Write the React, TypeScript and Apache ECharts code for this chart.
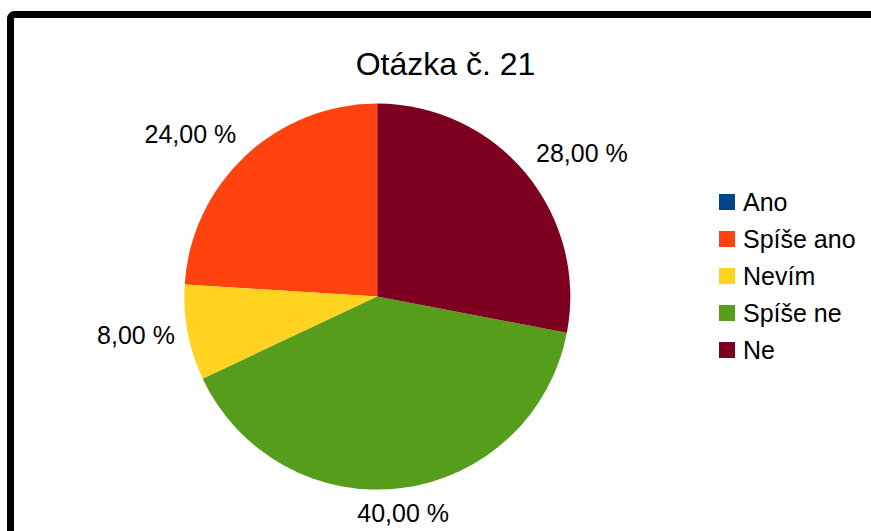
import React, { useEffect, useRef } from 'react';
import * as echarts from 'echarts';

const TITLE = 'Otázka č. 21';
const categories = ['Ano', 'Spíše ano', 'Nevím', 'Spíše ne', 'Ne'];
const values = [0, 24, 8, 40, 28];
const colors = ['#004586', '#ff420e', '#ffd320', '#579d1c', '#7e0021'];

const CX = 377.3;
const CY = 296.6;
const R = 193;
const GAP = 13;
const FONT = "'Liberation Sans', Arial, sans-serif";

function fallbackDir(idx: number) {
  const total = values.reduce((a, b) => a + b, 0) || 1;
  let cum = 0;
  for (let i = 0; i < idx; i++) cum += values[i];
  const deg = 90 + ((cum + values[idx] / 2) / total) * 360;
  const rad = (deg * Math.PI) / 180;
  return [Math.cos(rad), -Math.sin(rad)];
}

export default function App() {
  const ref = useRef<HTMLDivElement>(null);
  useEffect(() => {
    if (!ref.current) return;
    const chart = echarts.init(ref.current, null, { renderer: 'svg' });
    const data = categories.map((name, i) => ({
      name,
      value: values[i],
      itemStyle: { color: colors[i] },
      ...(values[i] === 0 ? { label: { show: false }, labelLine: { show: false } } : {}),
    }));
    const option: any = {
      animation: false,
      backgroundColor: '#ffffff',
      graphic: [
        {
          type: 'rect',
          silent: true,
          z: 100,
          shape: { x: 10.5, y: 14.5, width: 1000, height: 1000, r: 4 },
          style: { fill: 'none', stroke: '#000000', lineWidth: 7 },
        },
        {
          type: 'text',
          silent: true,
          x: 445.5,
          y: 63.5,
          style: {
            text: TITLE,
            fontSize: 32,
            fontFamily: FONT,
            fill: '#000000',
            align: 'center',
            verticalAlign: 'middle',
          },
        },
      ],
      legend: {
        orient: 'vertical',
        left: 719,
        top: 189.5,
        padding: 0,
        icon: 'rect',
        itemWidth: 16,
        itemHeight: 16,
        itemGap: 12,
        selectedMode: false,
        data: categories,
        textStyle: {
          fontSize: 25,
          lineHeight: 25,
          fontFamily: FONT,
          color: '#000000',
          padding: [0, 0, 0, 3],
        },
      },
      series: [
        {
          type: 'pie',
          center: [CX, CY],
          radius: R,
          startAngle: 90,
          clockwise: false,
          silent: true,
          data,
          itemStyle: { borderWidth: 0 },
          label: {
            show: true,
            position: 'outside',
            overflow: 'none',
            fontSize: 25,
            fontFamily: FONT,
            color: '#000000',
            formatter: (p: any) => Number(p.value).toFixed(2).replace('.', ',') + ' %',
          },
          labelLine: {
            show: true,
            length: 10,
            length2: 10,
            lineStyle: { opacity: 0, width: 0 },
          },
          labelLayout: (p: any) => {
            let ux: number;
            let uy: number;
            const pts = p.labelLinePoints;
            if (pts && pts.length >= 1) {
              const dx = pts[0][0] - CX;
              const dy = pts[0][1] - CY;
              const len = Math.hypot(dx, dy);
              if (len > 1) {
                ux = dx / len;
                uy = dy / len;
              } else {
                [ux, uy] = fallbackDir(p.dataIndex);
              }
            } else {
              [ux, uy] = fallbackDir(p.dataIndex);
            }
            const x = CX + ux * (R + GAP);
            const y = CY + uy * (R + GAP);
            let deg = (Math.atan2(-uy, ux) * 180) / Math.PI;
            if (deg < 0) deg += 360;
            let align = 'left';
            let verticalAlign = 'middle';
            if (deg <= 22.5 || deg >= 337.5) {
              align = 'left'; verticalAlign = 'middle';
            } else if (deg < 67.5) {
              align = 'left'; verticalAlign = 'bottom';
            } else if (deg < 112.5) {
              align = 'center'; verticalAlign = 'bottom';
            } else if (deg <= 157.5) {
              align = 'right'; verticalAlign = 'bottom';
            } else if (deg <= 202.5) {
              align = 'right'; verticalAlign = 'middle';
            } else if (deg < 247.5) {
              align = 'right'; verticalAlign = 'top';
            } else if (deg < 292.5) {
              align = 'center'; verticalAlign = 'top';
            } else {
              align = 'left'; verticalAlign = 'top';
            }
            return { x, y, align, verticalAlign };
          },
        },
      ],
    };
    chart.setOption(option);
    return () => chart.dispose();
  }, []);
  return (
    <div
      ref={ref}
      style={{ position: 'fixed', left: 0, top: 0, width: 871, height: 531, background: '#fff' }}
    />
  );
}
